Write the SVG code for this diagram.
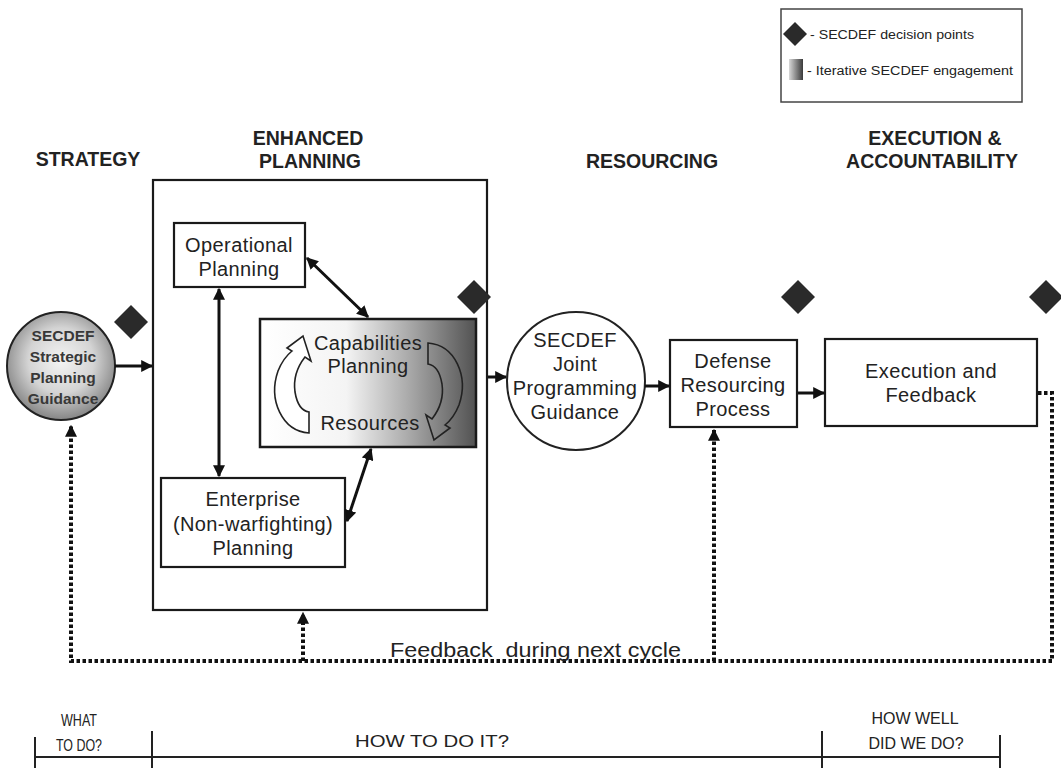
<svg xmlns="http://www.w3.org/2000/svg" width="1061" height="768" viewBox="0 0 1061 768">
  <defs>
    <style>
      text { font-family: "Liberation Sans", Arial, sans-serif; fill: #222; }
      .hdr { font-size: 19.5px; font-weight: bold; text-anchor: middle; }
      .body { font-size: 20px; letter-spacing: 0.4px; text-anchor: middle; }
      .sg { font-size: 15.5px; font-weight: bold; text-anchor: middle; fill: #383838; }
      .small { font-size: 16px; text-anchor: middle; }
      .legend { font-size: 12px; }
      .box { fill: #fff; stroke: #1a1a1a; stroke-width: 2.2; }
      .frame { fill: none; stroke: #1a1a1a; stroke-width: 2.2; }
      .diamond { fill: #2a2a2a; }
      .conn { fill: none; stroke: #111; stroke-width: 3; }
      .dotted { fill: none; stroke: #111; stroke-width: 4; stroke-dasharray: 3.5 2.5; }
      .tl { fill: none; stroke: #222; stroke-width: 2; }
    </style>
    <marker id="arrow" viewBox="0 0 10 10" refX="9" refY="5" markerWidth="4" markerHeight="4" orient="auto-start-reverse" markerUnits="strokeWidth">
      <path d="M0,0 L10,5 L0,10 z" fill="#111"/>
    </marker>
    <marker id="arrowDot" viewBox="0 0 10 10" refX="9" refY="5" markerWidth="3" markerHeight="3" orient="auto" markerUnits="strokeWidth">
      <path d="M0,0 L10,5 L0,10 z" fill="#111"/>
    </marker>
    <radialGradient id="sphere" cx="50%" cy="45%" r="55%">
      <stop offset="0" stop-color="#f4f4f4"/>
      <stop offset="0.55" stop-color="#d4d4d4"/>
      <stop offset="1" stop-color="#858585"/>
    </radialGradient>
    <linearGradient id="engage" x1="0" y1="0" x2="1" y2="0">
      <stop offset="0" stop-color="#ffffff"/>
      <stop offset="0.4" stop-color="#f4f4f4"/>
      <stop offset="0.68" stop-color="#acacac"/>
      <stop offset="1" stop-color="#525252"/>
    </linearGradient>
    <linearGradient id="engageKey" x1="0" y1="0" x2="1" y2="0">
      <stop offset="0" stop-color="#d8d8d8"/>
      <stop offset="1" stop-color="#3a3a3a"/>
    </linearGradient>
    <!-- hollow curved arrow used twice inside the capabilities box -->
    <path id="loopArrow" d="M309,433 C282,431 268,400 278,371 C282,361 287,355 292,351 L287,348 L303,336 L311,361 L305,357 C298,366 293,378 295,392 C297,404 302,411 309,412 Z"/>
  </defs>

  <!-- legend -->
  <g id="legend">
    <rect x="781" y="9" width="241" height="93" fill="#fff" stroke="#444" stroke-width="1.5"/>
    <polygon class="diamond" points="795,22 807,34 795,46 783,34"/>
    <text class="legend" x="810" y="39" textLength="164" lengthAdjust="spacingAndGlyphs">- SECDEF decision points</text>
    <rect x="789" y="59" width="14" height="21" fill="url(#engageKey)"/>
    <text class="legend" x="807" y="75" textLength="206" lengthAdjust="spacingAndGlyphs">- Iterative SECDEF engagement</text>
  </g>

  <!-- phase headings -->
  <g id="headings">
    <text class="hdr" x="88" y="166">STRATEGY</text>
    <text class="hdr" x="308" y="145">ENHANCED</text>
    <text class="hdr" x="310" y="168">PLANNING</text>
    <text class="hdr" x="652" y="168">RESOURCING</text>
    <text class="hdr" x="935" y="145">EXECUTION &amp;</text>
    <text class="hdr" x="932" y="168">ACCOUNTABILITY</text>
  </g>

  <g id="strategic-guidance">
    <circle cx="61" cy="366" r="54" fill="url(#sphere)" stroke="#222" stroke-width="2"/>
    <text class="sg" x="63" y="341">SECDEF</text>
    <text class="sg" x="63" y="362">Strategic</text>
    <text class="sg" x="63" y="383">Planning</text>
    <text class="sg" x="63" y="404">Guidance</text>
  </g>

  <g id="enhanced-planning">
    <rect class="frame" x="153" y="180" width="334" height="430"/>
  </g>

  <g id="operational-planning">
    <rect class="box" x="174" y="223" width="131" height="64"/>
    <text class="body" x="239" y="252">Operational</text>
    <text class="body" x="239" y="276">Planning</text>
  </g>

  <g id="capabilities-planning">
    <rect x="260" y="319" width="216" height="128" fill="url(#engage)" stroke="#1a1a1a" stroke-width="2.5"/>
    <use href="#loopArrow" fill="#fff" stroke="#222" stroke-width="1.6"/>
    <use href="#loopArrow" fill="none" stroke="#222" stroke-width="1.6" transform="translate(737,776) scale(-1,-1)"/>
    <text class="body" x="368" y="350">Capabilities</text>
    <text class="body" x="368" y="373">Planning</text>
    <text class="body" x="370" y="430">Resources</text>
  </g>

  <g id="enterprise-planning">
    <rect class="box" x="161" y="478" width="184" height="89"/>
    <text class="body" x="253" y="506">Enterprise</text>
    <text class="body" x="253" y="531">(Non-warfighting)</text>
    <text class="body" x="253" y="555">Planning</text>
  </g>

  <g id="joint-programming-guidance">
    <circle cx="576" cy="381" r="69" fill="#fff" stroke="#222" stroke-width="2"/>
    <text class="body" x="575" y="347">SECDEF</text>
    <text class="body" x="575" y="371">Joint</text>
    <text class="body" x="575" y="395">Programming</text>
    <text class="body" x="575" y="419">Guidance</text>
  </g>

  <g id="defense-resourcing">
    <rect class="box" x="670" y="340" width="127" height="87"/>
    <text class="body" x="733" y="368">Defense</text>
    <text class="body" x="733" y="392">Resourcing</text>
    <text class="body" x="733" y="416">Process</text>
  </g>

  <g id="execution-feedback">
    <rect class="box" x="825" y="339" width="212" height="87"/>
    <text class="body" x="931" y="378">Execution and</text>
    <text class="body" x="931" y="402">Feedback</text>
  </g>

  <!-- decision point markers -->
  <g id="decision-points">
    <polygon class="diamond" points="131,305 148,322 131,339 114,322"/>
    <polygon class="diamond" points="474,280 491,297 474,314 457,297"/>
    <polygon class="diamond" points="798,280 815,297 798,314 781,297"/>
    <polygon class="diamond" points="1046,280 1063,297 1046,314 1029,297"/>
  </g>

  <g id="connectors">
    <line class="conn" x1="115" y1="366" x2="152" y2="366" marker-end="url(#arrow)"/>
    <line class="conn" x1="219" y1="289" x2="219" y2="476" marker-start="url(#arrow)" marker-end="url(#arrow)"/>
    <line class="conn" x1="307" y1="258" x2="368" y2="317" marker-start="url(#arrow)" marker-end="url(#arrow)"/>
    <line class="conn" x1="347" y1="521" x2="371" y2="449" marker-start="url(#arrow)" marker-end="url(#arrow)"/>
    <line class="conn" x1="488" y1="377" x2="506" y2="377" marker-end="url(#arrow)"/>
    <line class="conn" x1="645" y1="386" x2="669" y2="386" marker-end="url(#arrow)"/>
    <line class="conn" x1="798" y1="393" x2="824" y2="393" marker-end="url(#arrow)"/>
    <path class="dotted" d="M1038,393 H1052 V661 H71 V426" marker-end="url(#arrowDot)"/>
    <path class="dotted" d="M303,661 V613" marker-end="url(#arrowDot)"/>
    <path class="dotted" d="M714,661 V430" marker-end="url(#arrowDot)"/>
    <text x="390" y="657" style="font-size:19.5px; white-space:pre" textLength="291" lengthAdjust="spacingAndGlyphs">Feedback  during next cycle</text>
  </g>

  <!-- timeline of questions -->
  <g id="timeline">
    <line class="tl" x1="35" y1="757" x2="1000" y2="757"/>
    <line class="tl" x1="35" y1="737" x2="35" y2="768"/>
    <line class="tl" x1="152" y1="731" x2="152" y2="768"/>
    <line class="tl" x1="822" y1="731" x2="822" y2="768"/>
    <line class="tl" x1="1000" y1="735" x2="1000" y2="768"/>
    <text class="small" x="79" y="726" textLength="36" lengthAdjust="spacingAndGlyphs">WHAT</text>
    <text class="small" x="79" y="751" textLength="46" lengthAdjust="spacingAndGlyphs">TO DO?</text>
    <text class="small" x="432" y="747" textLength="154" lengthAdjust="spacingAndGlyphs">HOW TO DO IT?</text>
    <text class="small" x="915" y="724">HOW WELL</text>
    <text class="small" x="916" y="749">DID WE DO?</text>
  </g>
</svg>
